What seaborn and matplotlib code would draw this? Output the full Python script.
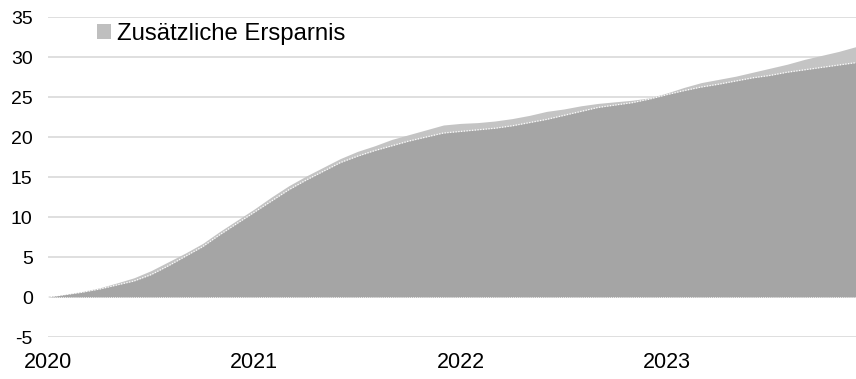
import matplotlib
matplotlib.use("Agg")
import matplotlib.pyplot as plt
from matplotlib.patches import Patch
import numpy as np
import pandas as pd
import seaborn as sns

# Monthly cumulative values, Jan 2020 - Dec 2023 (Mrd.)
months = pd.date_range("2020-01-01", "2023-12-01", freq="MS")
basis = [0.0, 0.3, 0.6, 1.0, 1.5, 2.0, 2.8, 3.9, 5.1, 6.3, 7.8, 9.2,
         10.6, 12.0, 13.4, 14.6, 15.7, 16.8, 17.6, 18.3, 18.9, 19.5, 20.0, 20.5,
         20.7, 20.9, 21.1, 21.4, 21.8, 22.2, 22.7, 23.2, 23.7, 24.0, 24.3, 24.75,
         25.3, 25.8, 26.25, 26.6, 27.0, 27.4, 27.7, 28.1, 28.4, 28.7, 29.0, 29.3]
gesamt = [0.0, 0.35, 0.7, 1.15, 1.75, 2.4, 3.3, 4.4, 5.5, 6.7, 8.2, 9.6,
          11.0, 12.5, 13.9, 15.1, 16.2, 17.3, 18.2, 18.9, 19.7, 20.3, 20.9, 21.5,
          21.7, 21.8, 22.0, 22.3, 22.7, 23.2, 23.5, 23.9, 24.2, 24.4, 24.6, 24.9,
          25.5, 26.2, 26.8, 27.2, 27.6, 28.1, 28.6, 29.1, 29.7, 30.2, 30.7, 31.3]
year_labels = ["2020", "2021", "2022", "2023"]
legend_label = "Zusätzliche Ersparnis"

df = pd.DataFrame({"monat": np.arange(len(months)), "basis": basis, "gesamt": gesamt})

sns.set_theme(style="white")
plt.rcParams["font.family"] = ["Liberation Sans", "DejaVu Sans"]
plt.rcParams["axes.unicode_minus"] = False
plt.rcParams["text.color"] = "black"

W, H = 856, 379
fig = plt.figure(figsize=(W / 100, H / 100), dpi=100)
ax = fig.add_axes([48 / W, 1 - 337 / H, 1 - 48 / W, 320 / H])

light = "#c4c4c4"
dark = "#a5a5a5"

ax.fill_between(df["monat"], 0, df["gesamt"], color=light, linewidth=0, zorder=2)
ax.fill_between(df["monat"], 0, df["basis"], color=dark, linewidth=0, zorder=3)
sns.lineplot(data=df, x="monat", y="basis", ax=ax, color="white",
             linewidth=0.9, linestyle=(0, (1, 1.2)), zorder=4, legend=False)
ax.axhline(0, color="white", linewidth=0.6, linestyle=(0, (1, 1.5)), zorder=4)

ax.set_xlim(0, len(months) - 1)
ax.set_ylim(-5, 35)
ax.set_yticks(np.arange(-5, 36, 5))
ax.set_xticks(np.arange(0, len(months), 12))
ax.set_xticklabels(year_labels)
ax.set_xlabel("")
ax.set_ylabel("")

ax.grid(axis="y", color="#d9d9d9", linewidth=1.2, zorder=1)
ax.grid(axis="x", visible=False)
ax.set_axisbelow(True)
for s in ax.spines.values():
    s.set_visible(False)

ax.tick_params(axis="y", length=0, pad=11, labelsize=14, labelcolor="black")
ax.tick_params(axis="x", length=0, pad=11, labelsize=15.5, labelcolor="black")

handle = Patch(facecolor="#bfbfbf", edgecolor="none")
fig.legend([handle], [legend_label], loc="center left",
           bbox_to_anchor=(97 / W, 1 - 34 / H),
           frameon=False, fontsize=17.2, handlelength=0.6, handleheight=0.6,
           handletextpad=0.25, borderaxespad=0, borderpad=0,
           labelcolor="black")

fig.savefig("out.png", dpi=100)
